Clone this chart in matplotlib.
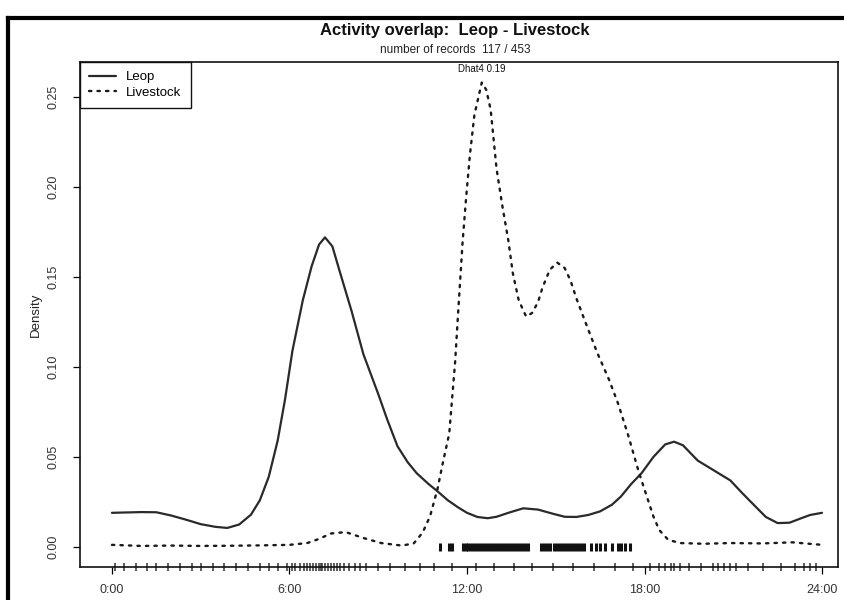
import matplotlib
matplotlib.use("Agg")
import matplotlib.pyplot as plt
from matplotlib.lines import Line2D

plt.rcParams['font.family'] = ['Liberation Sans', 'DejaVu Sans']

# ---------------- data ----------------
title = "Activity overlap:  Leop - Livestock"
subtitle = "number of records  117 / 453"
annotation = "Dhat4 0.19"
series_names = ["Leop", "Livestock"]

x_ticks = [0, 6, 12, 18, 24]
x_tick_labels = ["0:00", "6:00", "12:00", "18:00", "24:00"]
y_ticks = [0.00, 0.05, 0.10, 0.15, 0.20, 0.25]
y_tick_labels = ["0.00", "0.05", "0.10", "0.15", "0.20", "0.25"]

leop_time = [0.0, 0.5, 1.0, 1.5, 2.0, 2.5, 3.0, 3.5, 3.9, 4.3, 4.7, 5.0, 5.3, 5.6,
             5.85, 6.1, 6.45, 6.75, 7.0, 7.2, 7.45, 7.7, 8.1, 8.5, 9.0, 9.3, 9.65,
             10.0, 10.3, 10.7, 11.0, 11.35, 11.7, 12.0, 12.35, 12.7, 13.0, 13.4,
             13.9, 14.4, 14.9, 15.3, 15.7, 16.1, 16.5, 16.9, 17.2, 17.55, 17.9,
             18.3, 18.7, 19.0, 19.3, 19.8, 20.4, 20.9, 21.3, 21.6, 22.1, 22.5,
             22.9, 23.3, 23.6, 24.0]
leop_density = [0.0190, 0.0192, 0.0194, 0.0193, 0.0175, 0.0152, 0.0127, 0.0112,
                0.0106, 0.0125, 0.0180, 0.0260, 0.0390, 0.0590, 0.0820, 0.1090,
                0.1370, 0.1560, 0.1680, 0.1720, 0.1670, 0.1530, 0.1310, 0.1070,
                0.0850, 0.0710, 0.0560, 0.0470, 0.0410, 0.0350, 0.0310, 0.0260,
                0.0220, 0.0190, 0.0167, 0.0160, 0.0168, 0.0190, 0.0215, 0.0208,
                0.0185, 0.0168, 0.0167, 0.0178, 0.0198, 0.0235, 0.0280, 0.0350,
                0.0410, 0.0500, 0.0570, 0.0585, 0.0565, 0.0480, 0.0420, 0.0370,
                0.0300, 0.0250, 0.0167, 0.0133, 0.0135, 0.0160, 0.0178, 0.0190]

livestock_time = [0.0, 1.0, 2.0, 3.0, 4.0, 5.0, 6.0, 6.6, 7.0, 7.4, 7.9, 8.5, 9.1,
                  9.8, 10.2, 10.5, 10.75, 11.0, 11.2, 11.4, 11.5, 11.6, 11.7, 11.75,
                  11.85, 11.97, 12.1, 12.25, 12.5, 12.65, 12.8, 13.0, 13.2, 13.4,
                  13.55, 13.75, 14.0, 14.2, 14.4, 14.55, 14.8, 15.05, 15.3, 15.5,
                  15.7, 16.0, 16.4, 16.8, 17.1, 17.45, 17.8, 18.0, 18.3,
                  18.5, 18.8, 19.2, 20.0, 20.9, 22.0, 23.0, 24.0]
livestock_density = [0.0012, 0.0006, 0.0008, 0.0006, 0.0007, 0.0009, 0.0012, 0.0022,
                     0.0045, 0.0075, 0.0083, 0.0050, 0.0022, 0.0008, 0.0020, 0.0080,
                     0.0170, 0.0320, 0.0480, 0.0630, 0.0830, 0.1030, 0.1300, 0.1430,
                     0.1690, 0.1940, 0.2180, 0.2400, 0.2580, 0.2540, 0.2430, 0.2100,
                     0.1890, 0.1700, 0.1520, 0.1370, 0.1280, 0.1300, 0.1360, 0.1440,
                     0.1540, 0.1580, 0.1550, 0.1480, 0.1380, 0.1250, 0.1080, 0.0930,
                     0.0800, 0.0620, 0.0420, 0.0320, 0.0170, 0.0094, 0.0040,
                     0.0022, 0.0018, 0.0022, 0.0020, 0.0026, 0.0012]

leop_records = [0.1, 0.4, 0.8, 1.2, 1.5, 1.9, 2.3, 2.7, 3.0, 3.4, 3.8, 4.2, 4.6, 5.0,
                5.3, 5.6, 5.9, 6.1, 6.2, 6.35, 6.5, 6.6, 6.7, 6.8, 6.9, 7.0, 7.05,
                7.1, 7.2, 7.3, 7.4, 7.5, 7.6, 7.7, 7.85, 8.0, 8.2, 8.4, 8.6, 9.0,
                9.4, 9.9, 10.4, 10.9, 11.5, 12.3, 12.9, 13.6, 14.2, 14.9, 15.6, 16.3,
                17.0, 17.6, 18.2, 18.5, 18.7, 18.9, 19.0, 19.2, 19.5, 19.9, 20.3,
                20.5, 20.7, 20.9, 21.1, 21.5, 22.0, 22.6, 23.1, 23.4, 23.6, 23.8]
livestock_records = [11.1, 11.4, 11.5, 11.85, 11.95, 12.05, 12.15, 12.25, 12.35,
                     12.45, 12.55, 12.65, 12.75, 12.85, 12.95, 13.05, 13.15, 13.25,
                     13.35, 13.45, 13.55, 13.65, 13.75, 13.85, 13.95, 14.05, 14.5,
                     14.6, 14.7, 14.8, 14.95, 15.05, 15.15, 15.25, 15.35, 15.45,
                     15.55, 15.65, 15.75, 15.85, 15.95, 16.2, 16.35, 16.5, 16.65,
                     16.9, 17.1, 17.2, 17.35, 17.5]

# ---------------- figure ----------------
W, H = 844, 600
fig = plt.figure(figsize=(W / 100, H / 100), dpi=100)
fig.patch.set_facecolor("white")

# axes box in pixels: left 80, right 838, top 62, bottom 567
L, R, T, B = 80, 838, 62, 567
ax = fig.add_axes([L / W, 1 - B / H, (R - L) / W, (B - T) / H])

ax.plot(leop_time, leop_density, color="#2a2a2a", lw=1.6, ls="-",
        solid_capstyle="round", solid_joinstyle="round", label=series_names[0])
ax.plot(livestock_time, livestock_density, color="#1a1a1a", lw=1.7,
        ls=(0, (1.0, 2.6)), dash_capstyle="round", label=series_names[1])

# rugs
ax.plot(leop_records, [0] * len(leop_records), ls="none", marker="|",
        markersize=6, markeredgewidth=1.1, color="#333333",
        transform=ax.get_xaxis_transform(), clip_on=False)
ax.plot(livestock_records, [0] * len(livestock_records), ls="none", marker="|",
        markersize=6, markeredgewidth=2.2, color="#111111")

ax.set_xlim(-1.08, 24.54)
ax.set_ylim(-0.0111, 0.2694)

ax.set_xticks(x_ticks)
ax.set_xticklabels(x_tick_labels, fontsize=9, color="#333333")
ax.set_yticks(y_ticks)
ax.set_yticklabels(y_tick_labels, fontsize=9, rotation=90, va="center",
                   color="#333333")
ax.tick_params(axis="x", direction="out", length=5, width=0.9, pad=7)
ax.tick_params(axis="y", direction="out", length=5, width=0.9, pad=10)
ax.set_ylabel("Density", fontsize=9.5, labelpad=4, color="#222222")

for sp in ax.spines.values():
    sp.set_linewidth(1.2)
    sp.set_color("#111111")

leg = ax.legend(loc="upper left", borderaxespad=0, fancybox=False,
                edgecolor="#111111", framealpha=1, fontsize=9.5,
                handlelength=2.0, borderpad=0.7, labelspacing=0.25,
                handletextpad=0.8)
leg.get_frame().set_linewidth(1.0)

ax.text(12.5, 0.263, annotation, ha="center", va="bottom", fontsize=7,
        color="#111111")

fig.text(455 / W, 1 - 30 / H, title, ha="center", va="center",
         fontsize=12, fontweight="bold", color="#111111")
fig.text(455 / W, 1 - 50 / H, subtitle, ha="center", va="center",
         fontsize=8.5, color="#222222")

# outer scan frame (left and top)
fig.add_artist(Line2D([8 / W, 8 / W], [0, 1 - 18 / H], transform=fig.transFigure,
                      color="black", lw=3))
fig.add_artist(Line2D([8 / W, 1], [1 - 18 / H, 1 - 18 / H], transform=fig.transFigure,
                      color="black", lw=3))

fig.savefig("out.png", dpi=100)
